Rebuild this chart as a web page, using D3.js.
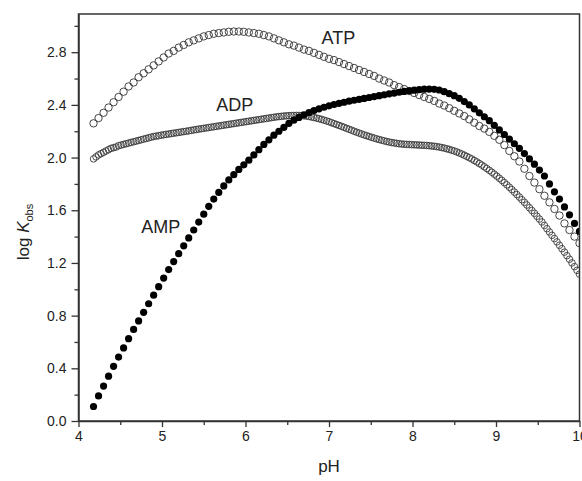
<!DOCTYPE html>
<html>
<head>
<meta charset="utf-8">
<script src="https://cdn.jsdelivr.net/npm/d3@7"></script>
<style>
  html, body { margin: 0; padding: 0; background: #fff; }
  svg { display: block; font-family: "Liberation Sans", Arial, sans-serif; }
</style>
</head>
<body>
<svg id="chart" width="582" height="481"></svg>
<script>
// pH sampling of the computed species curves
const phStartCoarse = 4.18, phStepCoarse = 0.06;   // ATP and AMP
const phStartFine = 4.18, phStepFine = 0.03;       // ADP

// log Kobs for ATP (open circles)
const atpValues = [
  2.26, 2.30, 2.34, 2.38, 2.42, 2.46, 2.50, 2.54, 2.57, 2.61,
  2.64, 2.67, 2.70, 2.73, 2.76, 2.79, 2.81, 2.835, 2.855, 2.875,
  2.89, 2.905, 2.92, 2.93, 2.94, 2.945, 2.95, 2.955, 2.957, 2.957,
  2.955, 2.95, 2.945, 2.94, 2.93, 2.92, 2.905, 2.89, 2.875, 2.86,
  2.85, 2.835, 2.82, 2.81, 2.795, 2.78, 2.765, 2.75, 2.74, 2.725,
  2.71, 2.695, 2.68, 2.665, 2.65, 2.635, 2.62, 2.60, 2.585, 2.57,
  2.55, 2.535, 2.52, 2.505, 2.49, 2.475, 2.46, 2.445, 2.43, 2.41,
  2.395, 2.375, 2.355, 2.335, 2.315, 2.29, 2.265, 2.24, 2.22, 2.195,
  2.165, 2.135, 2.095, 2.05, 2.01, 1.97, 1.915, 1.86, 1.81, 1.76,
  1.71, 1.66, 1.61, 1.56, 1.50, 1.45, 1.40, 1.35
];

// log Kobs for ADP (open circles, finer sampling)
const adpValues = [
  1.99, 2.005, 2.02, 2.03, 2.04, 2.05, 2.06, 2.07, 2.075, 2.08,
  2.09, 2.095, 2.10, 2.105, 2.11, 2.115, 2.12, 2.125, 2.13, 2.135,
  2.14, 2.145, 2.15, 2.155, 2.16, 2.163, 2.166, 2.17, 2.173, 2.176,
  2.179, 2.182, 2.185, 2.188, 2.191, 2.194, 2.197, 2.20, 2.203, 2.206,
  2.21, 2.213, 2.216, 2.219, 2.222, 2.225, 2.228, 2.231, 2.234, 2.237,
  2.24, 2.243, 2.246, 2.249, 2.252, 2.255, 2.258, 2.261, 2.264, 2.267,
  2.27, 2.273, 2.276, 2.279, 2.282, 2.285, 2.288, 2.291, 2.294, 2.297,
  2.30, 2.303, 2.306, 2.309, 2.311, 2.313, 2.315, 2.317, 2.318, 2.319,
  2.32, 2.32, 2.32, 2.319, 2.317, 2.315, 2.312, 2.308, 2.304, 2.30,
  2.295, 2.29, 2.284, 2.278, 2.272, 2.265, 2.258, 2.251, 2.244, 2.237,
  2.23, 2.222, 2.215, 2.208, 2.20, 2.193, 2.186, 2.179, 2.172, 2.166,
  2.16, 2.154, 2.148, 2.142, 2.137, 2.132, 2.127, 2.122, 2.118, 2.114,
  2.111, 2.108, 2.105, 2.103, 2.101, 2.10, 2.099, 2.098, 2.097, 2.096,
  2.095, 2.094, 2.093, 2.092, 2.09, 2.088, 2.086, 2.083, 2.08, 2.076,
  2.072, 2.067, 2.062, 2.056, 2.05, 2.043, 2.035, 2.027, 2.018, 2.009,
  1.999, 1.989, 1.978, 1.967, 1.955, 1.943, 1.93, 1.917, 1.903, 1.889,
  1.874, 1.859, 1.843, 1.827, 1.81, 1.793, 1.775, 1.757, 1.738, 1.719,
  1.70, 1.68, 1.66, 1.64, 1.619, 1.598, 1.577, 1.555, 1.533, 1.511,
  1.485, 1.46, 1.435, 1.41, 1.385, 1.36, 1.334, 1.308, 1.282, 1.255,
  1.228, 1.20, 1.172, 1.144, 1.115
];

// log Kobs for AMP (filled circles)
const ampValues = [
  0.11, 0.19, 0.265, 0.34, 0.415, 0.485, 0.555, 0.625, 0.695, 0.76,
  0.825, 0.89, 0.955, 1.02, 1.085, 1.15, 1.21, 1.27, 1.33, 1.39,
  1.45, 1.51, 1.57, 1.63, 1.685, 1.735, 1.785, 1.83, 1.87, 1.91,
  1.945, 1.98, 2.02, 2.06, 2.10, 2.135, 2.17, 2.20, 2.23, 2.26,
  2.285, 2.305, 2.325, 2.342, 2.357, 2.37, 2.382, 2.393, 2.403, 2.412,
  2.42, 2.428, 2.435, 2.442, 2.449, 2.456, 2.463, 2.47, 2.477, 2.484,
  2.49, 2.496, 2.502, 2.507, 2.512, 2.516, 2.519, 2.52, 2.518, 2.513,
  2.50, 2.485, 2.47, 2.45, 2.425, 2.40, 2.37, 2.34, 2.31, 2.28,
  2.245, 2.21, 2.175, 2.14, 2.105, 2.07, 2.03, 1.99, 1.95, 1.905,
  1.86, 1.80, 1.74, 1.685, 1.625, 1.565, 1.50, 1.44
];

const xTicks = [4, 5, 6, 7, 8, 9, 10];
const xMinorTicks = [4.5, 5.5, 6.5, 7.5, 8.5, 9.5];
const yTicks = [0.0, 0.4, 0.8, 1.2, 1.6, 2.0, 2.4, 2.8];
const yMinorTicks = [0.2, 0.6, 1.0, 1.4, 1.8, 2.2, 2.6, 3.0];

// label anchors (text start, baseline) in data units
const seriesLabels = [
  { name: "ATP", ph: 6.91, value: 2.86 },
  { name: "ADP", ph: 5.65, value: 2.356 },
  { name: "AMP", ph: 4.75, value: 1.43 }
];

const toPoints = (values, start, step) =>
  values.map((v, i) => ({ ph: +(start + i * step).toFixed(2), v }));

const atp = toPoints(atpValues, phStartCoarse, phStepCoarse);
const adp = toPoints(adpValues, phStartFine, phStepFine);
const amp = toPoints(ampValues, phStartCoarse, phStepCoarse);

const svg = d3.select("#chart");
const plotLeft = 78.5, plotRight = 579.5, plotTop = 14, plotBottom = 421;
const ink = "#222";

const x = d3.scaleLinear().domain([4, 10]).range([plotLeft, plotRight]);
const y = d3.scaleLinear().domain([0, 3.09]).range([plotBottom, plotTop]);

svg.append("defs").append("clipPath").attr("id", "plotClip")
  .append("rect").attr("x", plotLeft).attr("y", plotTop)
  .attr("width", plotRight - plotLeft).attr("height", plotBottom - plotTop);

const plot = svg.append("g").attr("clip-path", "url(#plotClip)");

// ATP: open circles
plot.append("g").selectAll("circle").data(atp).join("circle")
  .attr("cx", d => x(d.ph)).attr("cy", d => y(d.v)).attr("r", 3.7)
  .attr("fill", "none").attr("stroke", "#333").attr("stroke-width", 0.9);

// ADP: open circles, densely sampled
plot.append("g").selectAll("circle").data(adp).join("circle")
  .attr("cx", d => x(d.ph)).attr("cy", d => y(d.v)).attr("r", 3.3)
  .attr("fill", "none").attr("stroke", "#333").attr("stroke-width", 0.85);

// AMP: filled circles
plot.append("g").selectAll("circle").data(amp).join("circle")
  .attr("cx", d => x(d.ph)).attr("cy", d => y(d.v)).attr("r", 3.6)
  .attr("fill", "#000");

// frame
svg.append("rect").attr("x", plotLeft).attr("y", plotTop)
  .attr("width", plotRight - plotLeft).attr("height", plotBottom - plotTop)
  .attr("fill", "none").attr("stroke", "#333").attr("stroke-width", 1.5);

// x axis
svg.append("g").attr("transform", `translate(0,${plotBottom})`)
  .call(d3.axisBottom(x).tickValues(xTicks).tickFormat(d3.format("d"))
    .tickSize(6).tickSizeOuter(0).tickPadding(4));
svg.append("g").attr("transform", `translate(0,${plotBottom})`)
  .call(d3.axisBottom(x).tickValues(xMinorTicks).tickFormat("")
    .tickSize(4).tickSizeOuter(0))
  .call(g => g.select(".domain").remove());

// y axis
svg.append("g").attr("transform", `translate(${plotLeft},0)`)
  .call(d3.axisLeft(y).tickValues(yTicks).tickFormat(d3.format(".1f"))
    .tickSize(7).tickSizeOuter(0).tickPadding(5));
svg.append("g").attr("transform", `translate(${plotLeft},0)`)
  .call(d3.axisLeft(y).tickValues(yMinorTicks).tickFormat("")
    .tickSize(4).tickSizeOuter(0))
  .call(g => g.select(".domain").remove());

svg.selectAll(".domain").attr("stroke", "#333").attr("stroke-width", 1.5);
svg.selectAll(".tick line").attr("stroke", "#333").attr("stroke-width", 1.3);
svg.selectAll(".tick text").attr("fill", ink)
  .style("font-family", "'Liberation Sans', Arial, sans-serif")
  .style("font-size", "14px");

// axis titles
svg.append("text").attr("x", x(7)).attr("y", 472)
  .attr("text-anchor", "middle").attr("fill", ink)
  .style("font-size", "17px").text("pH");

const yTitle = svg.append("text")
  .attr("transform", "translate(29,232) rotate(-90)")
  .attr("text-anchor", "middle").attr("fill", ink)
  .style("font-size", "17px");
yTitle.append("tspan").text("log ");
yTitle.append("tspan").style("font-style", "italic").text("K");
yTitle.append("tspan").attr("dy", 4).style("font-size", "11px").text("obs");

// series labels
svg.append("g").selectAll("text").data(seriesLabels).join("text")
  .attr("x", d => x(d.ph)).attr("y", d => y(d.value))
  .attr("fill", ink).style("font-size", "18px")
  .text(d => d.name);
</script>
</body>
</html>
